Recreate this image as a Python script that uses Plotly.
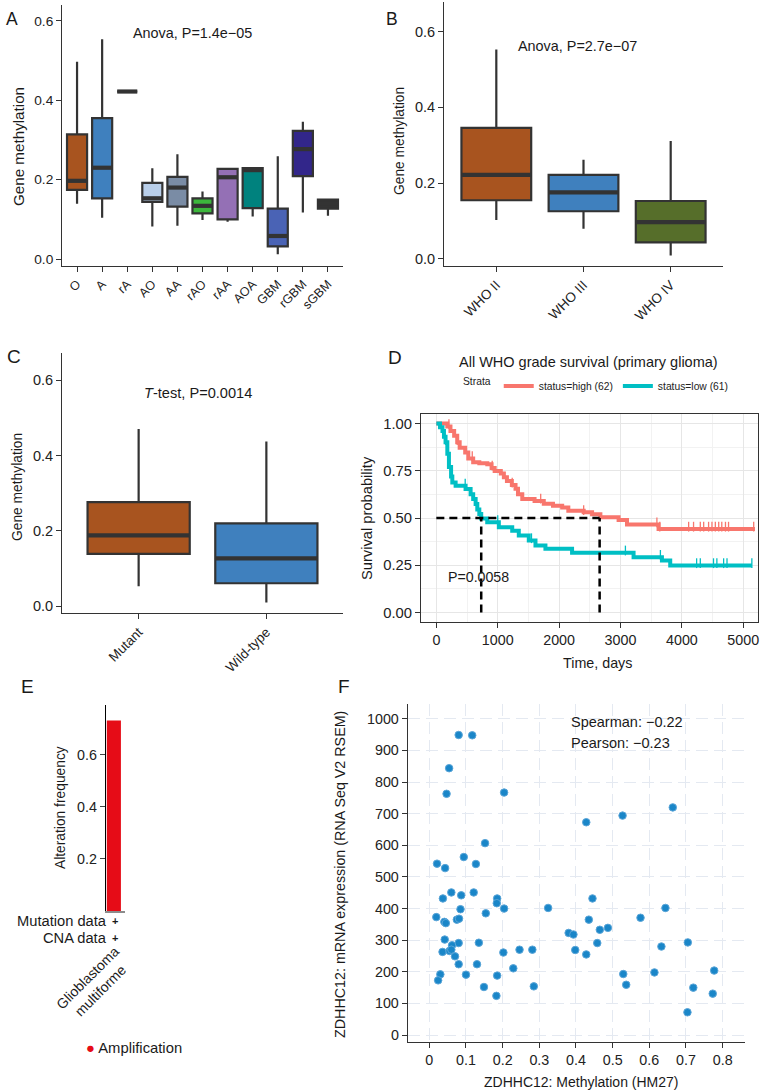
import numpy as np
import plotly.graph_objects as go

W, H = 762, 1091
def fx(px): return px / W
def fy(py): return 1 - py / H

FONT = "Liberation Sans, Arial, sans-serif"
TXT = "#1a1a1a"
AX = "#333333"

# ---------------- Panel A data ----------------
a_cats = ["O", "A", "rA", "AO", "AA", "rAO", "rAA", "AOA", "GBM", "rGBM", "sGBM"]
a_low  = [0.139, 0.104, 0.422, 0.082, 0.084, 0.098, 0.094, 0.107, 0.012, 0.117, 0.109]
a_q1   = [0.174, 0.153, 0.422, 0.144, 0.132, 0.115, 0.100, 0.128, 0.032, 0.209, 0.127]
a_med  = [0.197, 0.230, 0.422, 0.153, 0.180, 0.134, 0.206, 0.224, 0.058, 0.277, 0.139]
a_q3   = [0.314, 0.355, 0.422, 0.192, 0.207, 0.153, 0.227, 0.229, 0.127, 0.323, 0.150]
a_high = [0.497, 0.554, 0.422, 0.229, 0.264, 0.170, 0.230, 0.230, 0.259, 0.346, 0.150]
a_colors = ["#A8541F", "#3F80BE", "#333333", "#B9CFEA", "#7A8CA5", "#3CB73C",
            "#9470B5", "#00827E", "#4A63B5", "#32268A", "#333333"]

# ---------------- Panel B data ----------------
b_cats = ["WHO II", "WHO III", "WHO IV"]
b_low  = [0.103, 0.080, 0.009]
b_q1   = [0.155, 0.126, 0.044]
b_med  = [0.222, 0.176, 0.097]
b_q3   = [0.346, 0.222, 0.153]
b_high = [0.553, 0.262, 0.311]
b_colors = ["#A8541F", "#3F80BE", "#566E2A"]

# ---------------- Panel C data ----------------
c_cats = ["Mutant", "Wild-type"]
c_low  = [0.053, 0.010]
c_q1   = [0.139, 0.061]
c_med  = [0.188, 0.127]
c_q3   = [0.276, 0.220]
c_high = [0.470, 0.437]
c_colors = ["#A8541F", "#3F80BE"]

# ---------------- Panel D data (KM) ----------------
high_t = [0, 179, 230, 290, 340, 380, 470, 520, 600, 700, 830, 900, 950, 1050, 1100, 1150,
          1230, 1290, 1330, 1400, 1600, 1750, 1900, 2050, 2150, 2400, 2537, 2672, 2969,
          3106, 3620, 5190]
high_s = [1.0, 0.984, 0.960, 0.935, 0.900, 0.872, 0.846, 0.815, 0.795, 0.790, 0.784, 0.765,
          0.749, 0.735, 0.715, 0.696, 0.675, 0.655, 0.625, 0.600, 0.590, 0.575, 0.565, 0.556,
          0.538, 0.530, 0.520, 0.504, 0.489, 0.465, 0.442, 0.442]
low_t = [0, 60, 100, 124, 150, 179, 205, 240, 260, 314, 476, 558, 600, 640, 667, 700, 731,
         829, 1018, 1236, 1343, 1506, 1615, 1777, 2211, 3213, 3675, 3810, 5140]
low_s = [1.0, 0.98, 0.96, 0.93, 0.90, 0.84, 0.77, 0.72, 0.688, 0.670, 0.653, 0.626, 0.600,
         0.574, 0.545, 0.521, 0.497, 0.477, 0.451, 0.433, 0.407, 0.381, 0.354, 0.337, 0.316,
         0.293, 0.275, 0.249, 0.249]
high_cens = [205, 340, 585, 910, 1236, 1700, 2400, 3593, 3640, 4110, 4190, 4300, 4355, 4435,
             4490, 4545, 4600, 4650, 4710, 4760, 5170]
low_cens = [150, 470, 1000, 1550, 3080, 3650, 4240, 4300, 4515, 4570, 4680, 4735, 5140]
median_low, median_high = 731, 2660
d_labels = ["status=high (62)", "status=low (61)"]

# ---------------- Panel E data ----------------
e_cats = ["Glioblastoma multiforme"]
e_freq = [0.732]

# ---------------- Panel F data ----------------
f_meth = [0.080, 0.117, 0.054, 0.047, 0.204, 0.664, 0.527, 0.428, 0.152, 0.094, 0.021, 0.127,
          0.043, 0.060, 0.121, 0.037, 0.087, 0.185, 0.445, 0.184, 0.085, 0.204, 0.324, 0.644,
          0.019, 0.154, 0.041, 0.045, 0.075, 0.081, 0.435, 0.576, 0.465, 0.487, 0.380, 0.393,
          0.042, 0.080, 0.135, 0.062, 0.458, 0.705, 0.633, 0.036, 0.055, 0.060, 0.070, 0.202,
          0.246, 0.281, 0.398, 0.428, 0.080, 0.130, 0.229, 0.030, 0.024, 0.100, 0.185, 0.529,
          0.614, 0.777, 0.149, 0.285, 0.537, 0.720, 0.183, 0.773, 0.704]
f_expr = [949, 948, 844, 763, 767, 720, 694, 673, 607, 563, 542, 541,
          528, 451, 451, 432, 442, 432, 432, 417, 398, 400, 402, 402,
          373, 385, 358, 354, 365, 368, 365, 371, 333, 339, 323, 318,
          302, 291, 292, 284, 291, 293, 280, 263, 266, 270, 249, 261,
          270, 270, 269, 255, 224, 224, 211, 192, 173, 191, 188, 193,
          198, 204, 152, 154, 159, 150, 124, 131, 72]

fig = go.Figure()

def box_panel(n, cats, low, q1, med, q3, high, colors):
    xa, ya = ("x" if n == 1 else f"x{n}"), ("y" if n == 1 else f"y{n}")
    idx = list(range(len(cats)))
    for i in idx:
        fig.add_trace(go.Box(
            x=[i], q1=[q1[i]], median=[med[i]], q3=[q3[i]],
            lowerfence=[low[i]], upperfence=[high[i]], width=0.8,
            fillcolor=colors[i], line=dict(color=AX, width=2.2), whiskerwidth=0,
            boxpoints=False, xaxis=xa, yaxis=ya, showlegend=False, hoverinfo="skip"))
    mx, my = [], []
    for i in idx:
        mx += [i - 0.4, i + 0.4, None]
        my += [med[i], med[i], None]
    fig.add_trace(go.Scatter(x=mx, y=my, mode="lines", line=dict(color=AX, width=4.2),
                             xaxis=xa, yaxis=ya, showlegend=False, hoverinfo="skip"))

box_panel(1, a_cats, a_low, a_q1, a_med, a_q3, a_high, a_colors)
box_panel(2, b_cats, b_low, b_q1, b_med, b_q3, b_high, b_colors)
box_panel(3, c_cats, c_low, c_q1, c_med, c_q3, c_high, c_colors)

# ---- Panel D ----
RED, CYAN = "#F8766D", "#00BFC4"
def step_at(ts, ss, t):
    i = np.searchsorted(np.array(ts), t, side="right") - 1
    return ss[max(i, 0)]

for ts, ss, cens, col, lab in [(high_t, high_s, high_cens, RED, d_labels[0]),
                               (low_t, low_s, low_cens, CYAN, d_labels[1])]:
    fig.add_trace(go.Scatter(x=ts, y=ss, mode="lines", line=dict(color=col, width=4, shape="hv"),
                             name=lab, xaxis="x4", yaxis="y4", hoverinfo="skip"))
    fig.add_trace(go.Scatter(x=cens, y=[step_at(ts, ss, c) + 0.012 for c in cens], mode="markers",
                             marker=dict(symbol="line-ns", size=7, line=dict(color=col, width=1.3)),
                             xaxis="x4", yaxis="y4", showlegend=False, hoverinfo="skip"))
# median survival dashed guides
fig.add_trace(go.Scatter(
    x=[0, median_high, None, median_low, median_low, None, median_high, median_high],
    y=[0.5, 0.5, None, 0, 0.5, None, 0, 0.5], mode="lines",
    line=dict(color="black", width=2.5, dash="8px,5px"),
    xaxis="x4", yaxis="y4", showlegend=False, hoverinfo="skip"))

# ---- Panel E ----
fig.add_trace(go.Bar(x=[0], y=e_freq, width=0.95, marker=dict(color="#E60C17", line=dict(width=0)),
                     xaxis="x5", yaxis="y5", showlegend=False, hoverinfo="skip"))

# ---- Panel F ----
fig.add_trace(go.Scatter(x=f_meth, y=f_expr, mode="markers",
                         marker=dict(color="#1A86C8", size=7.5, line=dict(color="#5AA5D8", width=1)),
                         xaxis="x6", yaxis="y6", showlegend=False, hoverinfo="skip"))

def tf(size):
    return dict(size=size, color="#222", family=FONT)

def classic(domain, rng, **kw):
    d = dict(domain=domain, range=rng, showline=True, linecolor=AX, linewidth=1,
             ticks="outside", ticklen=4, tickcolor=AX, tickwidth=1, showgrid=False,
             zeroline=False, tickfont=tf(14), fixedrange=True)
    d.update(kw)
    return d

layout = dict(
    width=W, height=H, margin=dict(l=0, r=0, t=0, b=0),
    paper_bgcolor="white", plot_bgcolor="white",
    font=dict(family=FONT, color=TXT, size=14),
    # A
    xaxis=classic([fx(62), fx(343)], [-0.6, 10.6], anchor="y", tickvals=list(range(len(a_cats))),
                  ticktext=a_cats, tickangle=-45, tickfont=tf(12.5), ticklen=5),
    yaxis=classic([fy(266), fy(5)], [-0.0176, 0.640], anchor="x", tickvals=[0, 0.2, 0.4, 0.6],
                  ticktext=["0.0", "0.2", "0.4", "0.6"], tickfont=tf(13.7), ticklen=5),
    # B
    xaxis2=classic([fx(444), fx(723)], [-0.6, 2.6], anchor="y2", tickvals=list(range(len(b_cats))),
                   ticktext=b_cats, tickangle=-45, tickfont=tf(13.5), ticklen=5),
    yaxis2=classic([fy(266), fy(2)], [-0.0185, 0.678], anchor="x2", tickvals=[0, 0.2, 0.4, 0.6],
                   ticktext=["0.0", "0.2", "0.4", "0.6"], tickfont=tf(14.5), ticklen=5),
    # C
    xaxis3=classic([fx(62), fx(343)], [-0.6, 1.6], anchor="y3", tickvals=list(range(len(c_cats))),
                   ticktext=c_cats, tickangle=-45, tickfont=tf(13.5), ticklen=5),
    yaxis3=classic([fy(613), fy(353)], [-0.018, 0.672], anchor="x3", tickvals=[0, 0.2, 0.4, 0.6],
                   ticktext=["0.0", "0.2", "0.4", "0.6"], tickfont=tf(14.5), ticklen=5),
    # D
    xaxis4=classic([fx(421), fx(758)], [-250, 5240], anchor="y4",
                   tickvals=[0, 1000, 2000, 3000, 4000, 5000], showgrid=True, gridcolor="#E6E6E6",
                   gridwidth=1, mirror=True, ticklen=5, tickfont=tf(14.3),
                   minor=dict(dtick=500, tick0=0, showgrid=True, gridcolor="#F2F2F2", gridwidth=0.6)),
    yaxis4=classic([fy(622), fy(414)], [-0.05, 1.05], anchor="x4",
                   tickvals=[0, 0.25, 0.5, 0.75, 1.0], ticktext=["0.00", "0.25", "0.50", "0.75", "1.00"],
                   showgrid=True, gridcolor="#E6E6E6", gridwidth=1, mirror=True, ticklen=5,
                   tickfont=tf(14.8),
                   minor=dict(dtick=0.125, tick0=0, showgrid=True, gridcolor="#F2F2F2", gridwidth=0.6)),
    # E
    xaxis5=classic([fx(105.7), fx(125)], [-0.55, 0.75], anchor="y5", showticklabels=False,
                   ticks="", linecolor="#8c8c8c", linewidth=2),
    yaxis5=classic([fy(911), fy(705)], [0, 0.792], anchor="x5", tickvals=[0.2, 0.4, 0.6],
                   linecolor="black", tickcolor="#444", ticklen=5, tickfont=tf(14.3)),
    # F
    xaxis6=classic([fx(407.7), fx(745)], [-0.059, 0.861], anchor="y6",
                   tickvals=[0, 0.1, 0.2, 0.3, 0.4, 0.5, 0.6, 0.7, 0.8],
                   ticktext=["0", "0.1", "0.2", "0.3", "0.4", "0.5", "0.6", "0.7", "0.8"],
                   showgrid=True, gridcolor="#E4E9F1", griddash="12px,6px", ticklen=5,
                   tickfont=tf(14.3)),
    yaxis6=classic([fy(1041.7), fy(704)], [-21, 1047], anchor="x6",
                   tickvals=list(range(0, 1001, 100)),
                   showgrid=True, gridcolor="#E4E9F1", griddash="12px,6px", ticklen=5,
                   tickfont=tf(14.3)),
    legend=dict(orientation="h", x=fx(597), xanchor="center", y=fy(386), yanchor="middle",
                title=dict(text="Strata", side="left", font=dict(size=10.3)),
                font=dict(size=10.3, color="#222"), itemwidth=30, bgcolor="rgba(0,0,0,0)",
                tracegroupgap=0),
)
fig.update_layout(**layout)

def ann(text, x, y, size=14, angle=0, xanchor="center", yanchor="middle", **kw):
    fig.add_annotation(text=text, x=fx(x), y=fy(y), xref="paper", yref="paper", showarrow=False,
                       font=dict(size=size, color=TXT, family=FONT), textangle=angle,
                       xanchor=xanchor, yanchor=yanchor, **kw)

# panel letters
for lab, x, y, s in [("A", 12, 19, 17.5), ("B", 392, 19, 17.5), ("C", 14, 356, 19),
                     ("D", 395, 357, 19), ("E", 27, 686, 19), ("F", 344, 686, 19)]:
    ann(lab, x, y, size=s)

ann("Anova, P=1.4e\u221205", 193, 33, size=14.4)
ann("Anova, P=2.7e\u221207", 577, 46, size=14.4)
ann("<i>T</i>-test, P=0.0014", 198, 393, size=14.6)
ann("Gene methylation", 18, 147, angle=-90, size=15.2)
ann("Gene methylation", 399, 141, angle=-90, size=13.8)
ann("Gene methylation", 17, 487, angle=-90, size=13.8)

ann("All WHO grade survival (primary glioma)", 588, 362, size=14.5)
ann("Survival probability", 367, 518, angle=-90, size=14.7)
ann("Time, days", 597, 663, size=14.3)
ann("P=0.0058", 478, 577, size=14.2)

ann("Alteration frequency", 60, 808, angle=-90, size=13.8)
ann("Mutation data", 109, 921, xanchor="right", size=14.7)
ann("CNA data", 109, 938, xanchor="right", size=14.7)
ann("<b>+</b>", 114.5, 921, size=11)
ann("<b>+</b>", 114.5, 938, size=11)
ann("Glioblastoma<br>multiforme", 94, 984, angle=-45, size=14)
ann("<span style='color:#E60C17'>\u25CF</span> Amplification", 84, 1048, xanchor="left", size=14.8)

ann("ZDHHC12: mRNA expression (RNA Seq V2 RSEM)", 340, 875, angle=-90, size=14.3)
ann("ZDHHC12: Methylation (HM27)", 581, 1082, size=14)
ann("Spearman: \u22120.22", 569, 722, xanchor="left", size=14.5)
ann("Pearson: \u22120.23", 569, 743, xanchor="left", size=14.5)

fig.write_html("out.html", config={"displayModeBar": False},
               post_script="document.body.style.margin='0';document.body.style.padding='0';")
